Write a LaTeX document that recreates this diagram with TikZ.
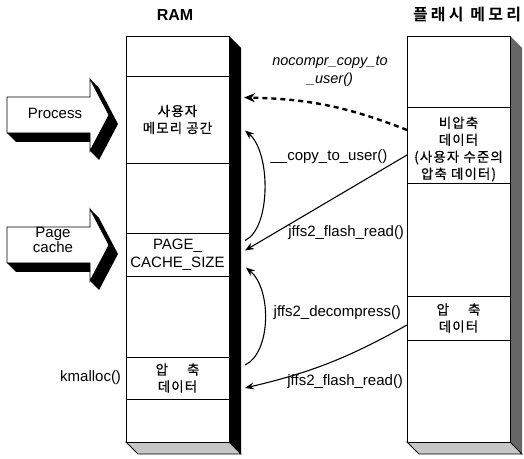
\documentclass[tikz,border=0pt]{standalone}
\usepackage{fontspec}
\setmainfont{Liberation Sans}
\newfontfamily\kr[LetterSpace=8, FakeBold=0.6]{Noto Sans CJK KR}
\newfontfamily\krtitle[LetterSpace=20]{Noto Sans CJK KR Bold}
\usetikzlibrary{arrows.meta,calc}

\tikzset{
  column/.style={rectangle, draw=black, fill=white, line width=0.8pt,
    minimum width=103pt, minimum height=406pt, inner sep=0},
  sector/.style={rectangle, draw=black, line width=0.8pt,
    minimum width=103pt, inner sep=0, align=center},
  krtext/.style={font=\kr\fontsize{13.5}{17}\selectfont},
  entext/.style={font=\fontsize{15}{18}\selectfont},
  coltitle/.style={font=\bfseries\fontsize{16}{18}\selectfont},
  call/.style={draw=black, line width=1.1pt, -{Stealth[length=9pt,width=7pt]}},
}

\begin{document}
\begin{tikzpicture}[x=1pt, y=1pt, inner sep=0, outer sep=0]
  \useasboundingbox[fill=white] (0,0) rectangle (524,458);

  % block arrows on the left: white face, then the black depth around it
  \foreach \yc in {343,213}{
    \coordinate (tail) at (7,\yc);
    \filldraw[fill=white, draw=black, line width=0.8pt] ([yshift=18pt]tail) -- ++(83,0) -- ++(0,18) -- ++(19,-36) -- ++(-19,-36) -- ++(0,18) -- ++(-83,0) -- cycle;
    \fill[black] ([shift={(83,36)}]tail) -- ++(19,-36) -- ++(-19,-36) -- ++(9,-9) -- ++(19,36) -- ++(-19,36) -- cycle;
    \fill[black] ([yshift=-18pt]tail) -- ++(83,0) -- ++(0,-9) -- ++(-74,0) -- cycle;
  }
  \node[entext] (proc) at (55,345) {Process};
  \node[entext, align=center, font=\fontsize{15}{15}\selectfont] (pcache) at (53,218) {Page\\cache};

  % RAM column with its depth
  \node[column] (ram) at (177.5,219) {};
  \fill[black] (ram.north east) -- ++(12,-12) -- ($(ram.south east)+(12,-12)$) -- (ram.south east) -- cycle;
  \filldraw[fill=gray!45, draw=black, line width=0.8pt] (ram.south west) -- ++(12,-12) -- ($(ram.south east)+(12,-12)$) -- (ram.south east) -- cycle;
  \node[column] at (ram) {};

  % flash column with its depth
  \node[column] (flash) at (458.5,219) {};
  \fill[black!60] (flash.north east) -- ++(12,-12) -- ($(flash.south east)+(12,-12)$) -- (flash.south east) -- cycle;
  \filldraw[fill=gray!45, draw=black, line width=0.8pt] (flash.south west) -- ++(12,-12) -- ($(flash.south east)+(12,-12)$) -- (flash.south east) -- cycle;
  \node[column] at (flash) {};

  % column titles
  \node[coltitle] (ramtitle) at (175,443) {RAM};
  \node[coltitle, font=\krtitle\fontsize{16}{18}\selectfont] (flashtitle) at (467,443) {플래시 메모리};

  \node[sector, krtext, minimum height=87pt] (ruser) at (177.5,338.5) {사용자\\메모리 공간};
  \node[sector, entext, minimum height=43pt] (rcache) at (177.5,203.5) {PAGE\_\\CACHE\_SIZE};
  \node[sector, krtext, minimum height=42pt] (rcomp) at (177.5,80) {압\hspace{19pt}축\\데이터};
  \node[entext, anchor=east] (kmalloc) at (121,80) {kmalloc()};

  \node[sector, minimum height=76pt] (fplain) at (458.5,313) {};
  \node[krtext, align=center] (fplaintext) at ([yshift=-4pt]fplain.center) {비압축\\데이터\\(사용자 수준의\\압축 데이터)};
  \node[sector, krtext, minimum height=44pt] (fcomp) at (458.5,140) {압\hspace{19pt}축\\데이터};

  % copies between flash and RAM
  \draw[call, line width=2.4pt, dash pattern=on 5pt off 4pt, -{Stealth[length=11pt,width=9pt]}]
    ([yshift=15pt]fplain.west) to[bend right=10] ([xshift=15pt,yshift=22pt]ruser.east);
  \node[entext, font=\itshape\fontsize{14.5}{18}\selectfont, align=center] (nocompr) at (330,387) {nocompr\_copy\_to\\\_user()};

  \draw[call] ([xshift=16pt,yshift=14pt]rcache.east) .. controls +(26,12) and +(26,-22) .. ([xshift=16pt,yshift=-11pt]ruser.east);
  \node[entext] (copyuser) at (329,301) {\_\_copy\_to\_user()};

  \draw[call] ([yshift=-10pt]fplain.west) -- ([xshift=16pt,yshift=4pt]rcache.east);
  \node[entext, anchor=east] (fread1) at (404,225) {jffs2\_flash\_read()};

  \draw[call] ([xshift=16pt,yshift=13pt]rcomp.east) .. controls +(26,12) and +(26,-22) .. ([xshift=17pt,yshift=-13pt]rcache.east);
  \node[entext, anchor=east] (decomp) at (401,145) {jffs2\_decompress()};

  \draw[call] ([yshift=-7pt]fcomp.west) to[bend left=8] ([xshift=16pt,yshift=-10pt]rcomp.east);
  \node[entext, anchor=east] (fread2) at (403,76) {jffs2\_flash\_read()};
\end{tikzpicture}
\end{document}
